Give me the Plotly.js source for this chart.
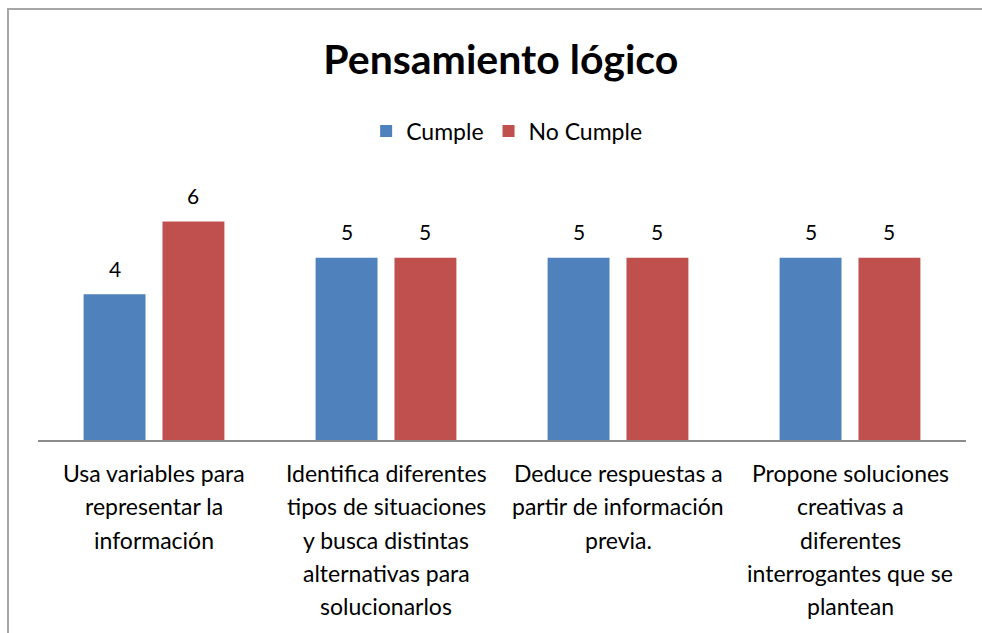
<!DOCTYPE html>
<html>
<head>
<meta charset="utf-8">
<script src="https://cdn.plot.ly/plotly-3.0.1.min.js"></script>
<style>
  html, body { margin: 0; padding: 0; background: #fff; }
  #chart { width: 982px; height: 633px; position: absolute; left: 0; top: 0; }
  #frame { position: absolute; left: 7px; top: 8px; width: 990px; height: 640px;
           border-left: 2px solid #A6A6A6; border-top: 2px solid #A6A6A6; pointer-events: none; }
</style>
</head>
<body>
<div id="chart"></div>
<div id="frame"></div>
<script>
const categories = ["c1", "c2", "c3", "c4"];
const categoryLines = [
  ["Usa variables para", "representar la", "información"],
  ["Identifica diferentes", "tipos de situaciones", "y busca distintas", "alternativas para", "solucionarlos"],
  ["Deduce respuestas a", "partir de información", "previa."],
  ["Propone soluciones", "creativas a", "diferentes", "interrogantes que se", "plantean"]
];
const cumple = [4, 5, 5, 5];
const noCumple = [6, 5, 5, 5];
const seriesNames = ["Cumple", "No Cumple"];
const chartTitle = "Pensamiento lógico";

const FONT = "Lato, 'Open Sans', sans-serif";
const W = 982, H = 633;
const M = { l: 38, r: 16, t: 184.5, b: 193 };
const BARGAP = 0.32, BARGROUPGAP = 0.215;

const traces = [
  { type: "bar", name: seriesNames[0], x: categories, y: cumple, marker: { color: "#4F81BD" } },
  { type: "bar", name: seriesNames[1], x: categories, y: noCumple, marker: { color: "#C0504D" } }
];

const annotations = [];
categoryLines.forEach((lines, i) => {
  lines.forEach((ln, j) => {
    annotations.push({
      x: categories[i], y: 0, xref: "x", yref: "y",
      text: ln, showarrow: false,
      xanchor: "center", yanchor: "middle",
      yshift: -(33 + j * 33.3),
      font: { family: FONT, size: 23, color: "#000" }
    });
  });
});

// value labels above each bar (offset derived from the bar layout)
const catWidth = (W - M.l - M.r) / categories.length;
const slot = catWidth * (1 - BARGAP) / 2;
[cumple, noCumple].forEach((vals, s) => {
  vals.forEach((v, i) => {
    annotations.push({
      x: categories[i], y: v, xref: "x", yref: "y",
      text: String(v), showarrow: false,
      xanchor: "center", yanchor: "middle",
      xshift: (s === 0 ? -1 : 1) * slot / 2,
      yshift: 26,
      font: { family: FONT, size: 21, color: "#000" }
    });
  });
});

const layout = {
  width: W, height: H,
  margin: M,
  paper_bgcolor: "#fff", plot_bgcolor: "#fff",
  title: {
    text: "<b>" + chartTitle + "</b>",
    font: { family: FONT, size: 41, color: "#000" },
    x: 0.51, xanchor: "center", y: 0.905, yanchor: "middle"
  },
  showlegend: true,
  legend: {
    orientation: "h", x: 0.505, xanchor: "center", y: 0.793, yanchor: "middle",
    yref: "container",
    font: { family: FONT, size: 23, color: "#000" },
    itemwidth: 30, traceorder: "normal"
  },
  barmode: "group",
  bargap: BARGAP,
  bargroupgap: BARGROUPGAP,
  xaxis: {
    showticklabels: false, ticks: "", showgrid: false, zeroline: false,
    showline: true, linecolor: "#8C8C8C", linewidth: 2, fixedrange: true
  },
  yaxis: {
    range: [0, 7], visible: false, showgrid: false, zeroline: false, fixedrange: true
  },
  annotations: annotations
};

Plotly.newPlot("chart", traces, layout, { displayModeBar: false, staticPlot: true });
</script>
</body>
</html>
